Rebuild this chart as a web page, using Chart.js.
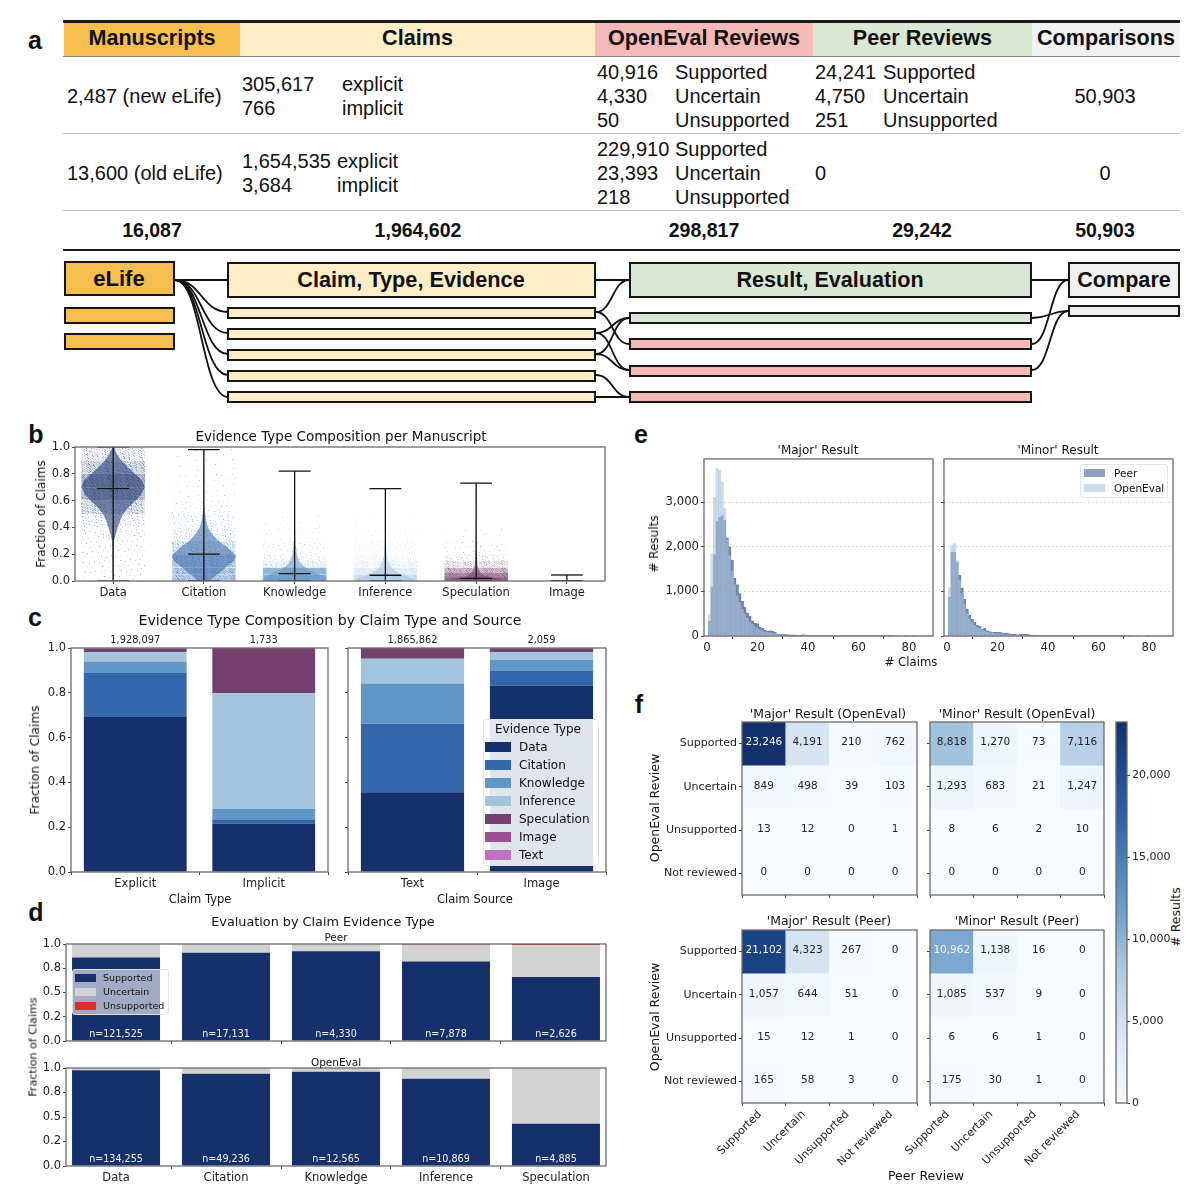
<!DOCTYPE html>
<html>
<head>
<meta charset="utf-8">
<title>Evaluation figure</title>
<script src="https://cdn.jsdelivr.net/npm/chart.js@4/dist/chart.umd.min.js"></script>
<style>
  html, body { margin: 0; background: #fff; }
  #root { position: relative; width: 1200px; height: 1197px; overflow: hidden; background: #fff; }
  #root canvas { position: absolute; }
  .t { position: absolute; white-space: nowrap; color: #111; font-family: "DejaVu Sans", sans-serif; line-height: 1; }
  .top { font-family: "Liberation Sans", Arial, sans-serif; }
  .box { position: absolute; box-sizing: border-box; border: 2px solid #151515; }
  .rule { position: absolute; }
  .leg { position: absolute; box-sizing: border-box; border: 1px solid #e3e3e3; border-radius: 3px; }
  .sw { position: absolute; }
</style>
</head>
<body>
<div id="root"></div>
<script>
// ----- table text -----
const headers = ["Manuscripts", "Claims", "OpenEval Reviews", "Peer Reviews", "Comparisons"];
const manuscripts = ["2,487 (new eLife)", "13,600 (old eLife)"];
const claimKinds = ["explicit", "implicit"];
const claimsNew = ["305,617", "766"];
const claimsOld = ["1,654,535", "3,684"];
const verdicts = ["Supported", "Uncertain", "Unsupported"];
const openEvalNew = ["40,916", "4,330", "50"];
const openEvalOld = ["229,910", "23,393", "218"];
const peerNew = ["24,241", "4,750", "251"];
const comparisons = ["50,903", "0"];
const totals = ["16,087", "1,964,602", "298,817", "29,242", "50,903"];

// ----- panel b -----
const evidenceTypes = ["Data", "Citation", "Knowledge", "Inference", "Speculation", "Image"];
const violinY = [
  [0, .1, .2, .3, .35, .4, .45, .5, .55, .6, .65, .7, .75, .8, .85, .9, .95, 1],
  [0, .03, .06, .1, .15, .18, .2, .25, .3, .35, .4, .45, .5, .55, .6, .7, .8, .98],
  [0, .02, .04, .06, .08, .1, .12, .15, .2, .3, .5, .82],
  [0, .02, .04, .06, .08, .1, .15, .2, .3, .69],
  [0, .01, .02, .03, .04, .06, .08, .12, .3, .73],
];
const violinWidth = [
  [.004, .004, .005, .01, .03, .05, .075, .11, .17, .25, .31, .35, .32, .24, .16, .09, .04, .006],
  [.06, .11, .17, .24, .33, .35, .34, .26, .16, .09, .045, .025, .015, .008, .005, .003, .002, .002],
  [.35, .34, .3, .24, .17, .12, .08, .05, .025, .008, .003, .001],
  [.35, .3, .22, .15, .1, .07, .03, .015, .005, .001],
  [.35, .3, .22, .15, .09, .05, .03, .015, .004, .001],
];
const cloudEdges = [
  [0, .1, .2, .3, .4, .5, .6, .7, .8, .9, 1],
  [0, .05, .1, .2, .3, .4, .5, .6, .8, 1],
  [0, .05, .1, .15, .2, .3, .4, .5],
  [0, .05, .1, .15, .2, .3, .4, .5],
  [0, .03, .06, .1, .15, .2, .3, .4],
];
const cloudDensity = [
  [.03, .03, .04, .05, .1, .3, .5, .55, .35, .2],
  [.55, .55, .5, .3, .14, .08, .04, .02, .012],
  [1, .9, .22, .1, .05, .03, .015],
  [.7, .45, .25, .15, .08, .04, .015],
  [1, .85, .6, .25, .08, .03, .012],
];
const whiskerMin = [0, 0, 0, 0, 0, 0];
const whiskerMax = [1, .98, .82, .69, .73, .045];
const whiskerMean = [.69, .2, .055, .043, .02, .002];
const tickLabels02 = ["0.0", "0.2", "0.4", "0.6", "0.8", "1.0"];
const tickValues02 = [0, .2, .4, .6, .8, 1];

// ----- panel c -----
const stackTypes = ["Data", "Citation", "Knowledge", "Inference", "Speculation", "Image", "Text"];
const claimTypes = ["Explicit", "Implicit"];
const claimSources = ["Text", "Image"];
const typeCounts = ["1,928,097", "1,733"];
const sourceCounts = ["1,865,862", "2,059"];
const explicitShares = [.692, .196, .052, .041, .017, .001, .001];
const implicitShares = [.216, .016, .049, .517, .202, 0, 0];
const textShares = [.356, .306, .18, .11, .048, 0, 0];
const imageShares = [.833, .067, .048, .033, .018, .001, 0];

// ----- panel d -----
const evalCategories = ["Data", "Citation", "Knowledge", "Inference", "Speculation"];
const evalTicks = [0, .25, .5, .75, 1];
const evalTickLabels = ["0.0", "0.2", "0.5", "0.8", "1.0"];
const peerSupported = [.86, .91, .925, .82, .66];
const peerUncertain = [.139, .089, .074, .172, .328];
const peerUnsupported = [.001, .001, .001, .008, .012];
const openSupported = [.976, .942, .962, .89, .43];
const openUncertain = [.024, .058, .038, .11, .57];
const openUnsupported = [0, 0, 0, 0, 0];
const peerCounts = ["n=121,525", "n=17,131", "n=4,330", "n=7,878", "n=2,626"];
const openCounts = ["n=134,255", "n=49,236", "n=12,565", "n=10,869", "n=4,885"];

// ----- panel e, counts for 1, 2, 3 ... claims -----
const majorPeer = [340, 1100, 1820, 2570, 2660, 2700, 2600, 2200, 2000, 1700,
  1300, 1150, 950, 780, 640, 520, 440, 340, 290, 280,
  200, 170, 140, 110, 120, 110, 80, 50, 45, 40,
  35, 30, 25, 25, 20, 20, 20, 30, 25, 20,
  15, 15, 20, 15, 10, 10, 8, 8, 6, 6,
  5, 5, 5, 4, 4, 4, 6, 8, 4, 3,
  3, 2, 2, 2, 2, 1, 1, 1, 1, 1,
  1, 1, 1, 1, 0, 1, 0, 0, 1, 0, 0, 1];
const majorOpen = [480, 1850, 3100, 3760, 3720, 3450, 2860, 2150, 1800, 1450,
  1150, 900, 750, 600, 500, 400, 320, 260, 210, 170,
  140, 110, 90, 80, 70, 55, 45, 40, 30, 25,
  22, 20, 18, 15, 14, 12, 10, 18, 12, 9,
  8, 8, 10, 7, 6, 5, 4, 4, 3, 3,
  3, 2, 2, 2, 2, 2, 3, 4, 2, 2,
  1, 1, 1, 1, 1, 1, 1, 1, 0, 1, 0, 0, 1];
const minorPeer = [880, 1880, 1880, 1650, 1360, 1080, 830, 610, 470, 380,
  310, 240, 220, 150, 180, 120, 100, 80, 90, 80,
  80, 70, 60, 60, 50, 45, 40, 25, 35, 40,
  40, 35, 25, 20, 18, 15, 14, 12, 15, 12,
  12, 10, 14, 12, 8, 8, 7, 12, 10, 8,
  6, 6, 4, 4, 3, 3, 3, 3, 3, 4,
  3, 3, 2, 4, 2, 1, 1, 1, 2, 1,
  1, 1, 1, 0, 1, 0, 0, 0, 1, 2];
const minorOpen = [1080, 2040, 2070, 1700, 1250, 950, 700, 500, 380, 300,
  240, 190, 160, 130, 110, 90, 75, 65, 55, 50,
  45, 40, 35, 30, 25, 22, 20, 18, 16, 15,
  14, 12, 10, 9, 8, 7, 6, 6, 5, 5,
  4, 4, 4, 3, 3, 3, 3, 2, 2, 2,
  2, 2, 1, 1, 1, 1, 1, 1, 1, 1];
const histYTicks = [0, 1000, 2000, 3000];
const histYLabels = ["0", "1,000", "2,000", "3,000"];
const histXTicks = [0, 20, 40, 60, 80];

// ----- panel f -----
const reviewLabels = ["Supported", "Uncertain", "Unsupported", "Not reviewed"];
const majorOpenEval = [[23246, 4191, 210, 762], [849, 498, 39, 103], [13, 12, 0, 1], [0, 0, 0, 0]];
const minorOpenEval = [[8818, 1270, 73, 7116], [1293, 683, 21, 1247], [8, 6, 2, 10], [0, 0, 0, 0]];
const majorPeerReview = [[21102, 4323, 267, 0], [1057, 644, 51, 0], [15, 12, 1, 0], [165, 58, 3, 0]];
const minorPeerReview = [[10962, 1138, 16, 0], [1085, 537, 9, 0], [6, 6, 1, 0], [175, 30, 1, 0]];
const colorbarTicks = [0, 5000, 10000, 15000, 20000];
const colorbarMax = 23246;

// ----- colours -----
const typeColors = ["#15306b", "#3366aa", "#6097c7", "#a4c4de", "#74406f", "#9a4f92", "#c270c0"];
const evalColors = ["#15306b", "#d2d2d2", "#d9302c"];
const blues = [[247, 251, 255], [227, 237, 247], [201, 219, 237], [164, 196, 222], [111, 159, 204],
  [74, 132, 187], [46, 99, 168], [28, 74, 140], [21, 49, 107]];

const root = document.getElementById("root");
Chart.defaults.font.family = '"DejaVu Sans", sans-serif';
Chart.defaults.font.size = 11;
Chart.defaults.color = "#222";

function text(str, x, y, size, o = {}) {
  const d = document.createElement("div");
  d.className = "t" + (o.top ? " top" : "");
  d.textContent = str;
  d.style.left = x + "px";
  d.style.top = y + "px";
  d.style.fontSize = size + "px";
  if (o.bold) d.style.fontWeight = "bold";
  const tx = o.left ? "0" : "-50%";
  d.style.transform = "translate(" + tx + ",-50%)" + (o.rot ? " rotate(" + o.rot + "deg)" : "");
  root.appendChild(d);
}
function rect(cls, x, y, w, h, color) {
  const d = document.createElement("div");
  d.className = cls;
  d.style.cssText = "left:" + x + "px;top:" + y + "px;width:" + w + "px;height:" + h + "px;background:" + color;
  root.appendChild(d);
  return d;
}

// ----- panel a: table -----
[[64, 176, "#f6bd4f"], [240, 355, "#fdeec8"], [595, 218, "#f5b9b8"], [813, 219, "#d9e8d5"], [1032, 148, "#f1f1f1"]]
  .forEach((b, i) => {
    rect("rule", b[0], 22, b[1], 34, b[2]);
    text(headers[i], b[0] + b[1] / 2, 38, 21.6, { top: 1, bold: 1 });
  });
rect("rule", 63, 20, 1117, 2.5, "#1a1a1a");
rect("rule", 63, 56, 1117, 1, "#888");
rect("rule", 63, 133, 1117, 1, "#c4c4c4");
rect("rule", 63, 210, 1117, 1, "#c4c4c4");
rect("rule", 63, 249, 1117, 2, "#1a1a1a");

const L = { top: 1, left: 1 };
text(manuscripts[0], 67, 96, 20, L);
text(manuscripts[1], 67, 173, 20, L);
claimsNew.forEach((v, i) => { text(v, 242, 84 + i * 24, 20, L); text(claimKinds[i], 342, 84 + i * 24, 20, L); });
claimsOld.forEach((v, i) => { text(v, 242, 161 + i * 24, 20, L); text(claimKinds[i], 337, 161 + i * 24, 20, L); });
verdicts.forEach((v, i) => {
  text(openEvalNew[i], 597, 72 + i * 24, 20, L); text(v, 675, 72 + i * 24, 20, L);
  text(openEvalOld[i], 597, 148.5 + i * 24, 20, L); text(v, 675, 148.5 + i * 24, 20, L);
  text(peerNew[i], 815, 72 + i * 24, 20, L); text(v, 883, 72 + i * 24, 20, L);
});
text("0", 815, 173, 20, L);
text(comparisons[0], 1105, 96, 20, { top: 1 });
text(comparisons[1], 1105, 173, 20, { top: 1 });
[152, 418, 704, 922, 1105].forEach((x, i) => text(totals[i], x, 231, 19.5, { top: 1, bold: 1 }));

// ----- panel a: workflow boxes and connectors -----
const svgNS = "http://www.w3.org/2000/svg";
const svg = document.createElementNS(svgNS, "svg");
svg.setAttribute("width", 1200);
svg.setAttribute("height", 420);
svg.style.cssText = "position:absolute;left:0;top:0";
root.appendChild(svg);
const links = [
  [175, 280, 228, 280], [175, 280, 228, 312], [175, 280, 228, 333], [175, 280, 228, 354], [175, 280, 228, 375], [175, 280, 228, 397],
  [596, 280, 629, 280], [596, 312, 629, 280], [596, 312, 629, 344], [596, 333, 629, 318], [596, 333, 629, 370],
  [596, 354, 629, 318], [596, 354, 629, 370], [596, 375, 629, 397], [596, 397, 629, 397],
  [1032, 280, 1068, 280], [1032, 344, 1068, 280], [1032, 318, 1068, 311], [1032, 370, 1068, 311],
];
links.forEach(([x1, y1, x2, y2]) => {
  const p = document.createElementNS(svgNS, "path");
  const m = (x1 + x2) / 2;
  p.setAttribute("d", "M" + x1 + " " + y1 + " C" + m + " " + y1 + " " + m + " " + y2 + " " + x2 + " " + y2);
  p.setAttribute("fill", "none");
  p.setAttribute("stroke", "#111");
  p.setAttribute("stroke-width", "1.8");
  svg.appendChild(p);
});
const orange = "#f6bd4f", cream = "#fdeec8", green = "#d9e8d5", pink = "#f5b9b8", grey = "#f1f1f1";
[[64, 261, 111, 35, orange], [64, 307, 111, 17, orange], [64, 333, 111, 17, orange],
 [227, 262, 369, 36, cream], [227, 307, 369, 12, cream], [227, 328, 369, 12, cream], [227, 349, 369, 12, cream], [227, 370, 369, 12, cream], [227, 391, 369, 12, cream],
 [629, 262, 403, 36, green], [629, 312, 403, 12, green], [629, 338, 403, 12, pink], [629, 365, 403, 12, pink], [629, 391, 403, 12, pink],
 [1068, 262, 112, 36, grey], [1068, 305, 112, 12, grey]]
  .forEach(b => rect("box", b[0], b[1], b[2], b[3], b[4]));
text("eLife", 119, 279, 22, { top: 1, bold: 1 });
text("Claim, Type, Evidence", 411, 280, 21.7, { top: 1, bold: 1 });
text("Result, Evaluation", 830, 280, 21.6, { top: 1, bold: 1 });
text("Compare", 1124, 280, 21.6, { top: 1, bold: 1 });

[["a", 35, 40], ["b", 36, 434], ["c", 35, 617], ["d", 36, 912], ["e", 641, 434], ["f", 639, 704]]
  .forEach(l => text(l[0], l[1], l[2], 25, { top: 1, bold: 1 }));

// ----- chart helpers -----
const MARGIN = { l: 70, r: 30, t: 20, b: 80 };
const WIDE_LEFT = { l: 90, r: 30, t: 20, b: 80 };

Chart.register({
  id: "frame",
  afterDatasetsDraw(chart) {
    const a = chart.chartArea, c = chart.ctx;
    c.save();
    c.strokeStyle = "#6a6a6a";
    c.lineWidth = 1.3;
    c.strokeRect(a.left, a.top, a.width, a.height);
    c.restore();
  },
});

function axis(min, max, values, labels, size = 11, extra = {}) {
  return Object.assign({
    type: "linear", min, max, offset: false,
    border: { display: false },
    grid: { drawOnChartArea: false, tickLength: 3, color: "#444" },
    ticks: {
      autoSkip: false, maxRotation: 0, minRotation: 0, padding: 2, color: "#222", font: { size },
      callback: (v, i) => (labels ? labels[i] : ""),
    },
    afterBuildTicks: s => { s.ticks = values.map(value => ({ value })); },
  }, extra);
}

function plot(box, cfg, m = MARGIN) {
  const w = box[2] - box[0], h = box[3] - box[1];
  const c = document.createElement("canvas");
  c.width = w + m.l + m.r;
  c.height = h + m.t + m.b;
  c.style.left = box[0] - m.l + "px";
  c.style.top = box[1] - m.t + "px";
  root.appendChild(c);
  const o = cfg.options;
  const atRight = o.scales.y.position === "right";
  o.responsive = false;
  o.animation = false;
  o.layout = { padding: { top: m.t, left: atRight ? m.l : 0, right: atRight ? 0 : m.r } };
  o.scales.x.afterFit = s => { s.height = m.b; };
  o.scales.y.afterFit = s => { s.width = atRight ? m.r : m.l; };
  o.plugins = Object.assign({ legend: { display: false }, tooltip: { enabled: false } }, o.plugins);
  return new Chart(c, cfg);
}

function labelsPlugin(strings, font, color, yOf) {
  return {
    id: "barLabels",
    afterDatasetsDraw(chart) {
      const c = chart.ctx;
      c.save();
      c.font = font + 'px "DejaVu Sans", sans-serif';
      c.fillStyle = color;
      c.textAlign = "center";
      c.textBaseline = "middle";
      chart.getDatasetMeta(0).data.forEach((bar, i) => c.fillText(strings[i], bar.x, yOf(chart.chartArea)));
      c.restore();
    },
  };
}

// ----- panel b -----
// soft dot texture for the jitter clouds, a fixed low discrepancy sequence
function stipple(color, density) {
  const size = 127, p = document.createElement("canvas");
  p.width = p.height = size;
  const g = p.getContext("2d");
  g.fillStyle = color;
  g.globalAlpha = Math.pow(density, 1.5) * 0.7;
  g.fillRect(0, 0, size, size);
  const dots = Math.round(size * size * density * 1.1);
  for (let i = 0; i < dots; i++) {
    g.globalAlpha = 0.1 + (i % 7) * 0.05;
    g.fillRect(Math.floor((i * 0.7548776662 % 1) * size), Math.floor((i * 0.569840291 % 1) * size), 1, 1);
  }
  return p;
}
const HALF_CLOUD = 0.35, CAP = 0.175;
const bData = [];
const lineDs = (pts, color) => ({ data: pts, borderColor: color, borderWidth: 1.3, pointRadius: 0, fill: false });
const fillPair = (left, right, color) => [
  { data: left, borderWidth: 0, pointRadius: 0, fill: false },
  { data: right, borderWidth: 0, pointRadius: 0, fill: "-1", backgroundColor: color },
];
evidenceTypes.forEach((_, i) => {
  bData.push(lineDs([{ x: i, y: whiskerMin[i] }, { x: i, y: whiskerMax[i] }], "#111"));
  [whiskerMin[i], whiskerMean[i], whiskerMax[i]].forEach(v =>
    bData.push(lineDs([{ x: i - CAP, y: v }, { x: i + CAP, y: v }], "#111")));
});
const rgba = (hex, a) => {
  const n = parseInt(hex.slice(1), 16);
  return "rgba(" + (n >> 16) + "," + ((n >> 8) & 255) + "," + (n & 255) + "," + a + ")";
};
violinY.forEach((ys, i) => {
  bData.push(...fillPair(ys.map((y, k) => ({ x: i - violinWidth[i][k], y })),
    ys.map((y, k) => ({ x: i + violinWidth[i][k], y })), rgba(typeColors[i], 0.55)));
});
const pctx = document.createElement("canvas").getContext("2d");
cloudEdges.forEach((edges, i) => {
  cloudDensity[i].forEach((dens, k) => {
    const ends = [edges[k], edges[k + 1]];
    bData.push(...fillPair(ends.map(y => ({ x: i - HALF_CLOUD, y })), ends.map(y => ({ x: i + HALF_CLOUD, y })),
      pctx.createPattern(stipple(typeColors[i], dens), "repeat")));
  });
});
plot([75, 447, 605, 581], {
  type: "line",
  data: { datasets: bData },
  options: {
    indexAxis: "y",
    scales: {
      x: axis(-0.42, 5.42, [0, 1, 2, 3, 4, 5], evidenceTypes, 11.5),
      y: axis(0, 1, tickValues02, tickLabels02, 11.5),
    },
  },
});
text("Evidence Type Composition per Manuscript", 341, 437, 13.5);
text("Fraction of Claims", 41, 514, 12, { rot: -90 });

// ----- panel c and d: stacked bars on a numeric x axis -----
function stacked(box, shares, names, colors, xMin, xMax, yTicks, yLabels, showY, plugins, xLabels = names) {
  return plot(box, {
    type: "bar",
    data: {
      datasets: shares.map((vals, s) => ({
        data: vals.map((y, x) => ({ x, y })), backgroundColor: colors[s],
        barPercentage: 0.8, categoryPercentage: 1, borderWidth: 0,
      })),
    },
    plugins,
    options: {
      scales: {
        x: axis(xMin, xMax, names.map((_, i) => i), xLabels, 11.5, { stacked: true }),
        y: axis(0, 1, yTicks, showY ? yLabels : null, 11.5, { stacked: true }),
      },
    },
  });
}
const typeSeries = stackTypes.map((_, s) => [explicitShares[s], implicitShares[s]]);
const sourceSeries = stackTypes.map((_, s) => [textShares[s], imageShares[s]]);
const countY = a => a.top - 8;
stacked([71, 648, 328, 872], typeSeries, claimTypes, typeColors, -0.5, 1.5, tickValues02, tickLabels02, true,
  [labelsPlugin(typeCounts, 9.8, "#222", countY)]);
stacked([348, 648, 606, 872], sourceSeries, claimSources, typeColors, -0.5, 1.5, tickValues02, tickLabels02, false,
  [labelsPlugin(sourceCounts, 9.8, "#222", countY)]);
text("Evidence Type Composition by Claim Type and Source", 330, 620, 14.2);
text("Fraction of Claims", 35, 760, 12.2, { rot: -90 });
text("Claim Type", 200, 900, 11.5);
text("Claim Source", 475, 900, 11.5);

rect("leg", 483, 719, 116, 147, "rgba(255,255,255,.87)");
text("Evidence Type", 538, 729, 12);
stackTypes.forEach((name, i) => {
  rect("sw", 485, 742 + i * 18, 26, 10, typeColors[i]);
  text(name, 519, 747 + i * 18, 12, { left: 1 });
});

const nY = a => a.bottom - 7;
stacked([66, 944, 606, 1041], [peerSupported, peerUncertain, peerUnsupported], evalCategories, evalColors,
  -0.455, 4.455, evalTicks, evalTickLabels, true, [labelsPlugin(peerCounts, 9.6, "#f2f4f8", nY)], null);
stacked([66, 1068, 606, 1166], [openSupported, openUncertain, openUnsupported], evalCategories, evalColors,
  -0.455, 4.455, evalTicks, evalTickLabels, true, [labelsPlugin(openCounts, 9.6, "#f2f4f8", nY)]);
text("Evaluation by Claim Evidence Type", 323, 922, 12.8);
text("Peer", 336, 937, 10.5);
text("OpenEval", 336, 1062, 10.5);
text("Fraction of Claims", 33, 1047, 11.1, { rot: -90 });
rect("leg", 72, 969, 97, 46, "rgba(255,255,255,.6)");
["Supported", "Uncertain", "Unsupported"].forEach((name, i) => {
  rect("sw", 75, 974 + i * 14.2, 21, 8, evalColors[i]);
  text(name, 103, 978 + i * 14.2, 9.5, { left: 1 });
});

// ----- panel e -----
const peerFill = "rgba(40,75,130,.52)", peerEdge = "rgba(21,48,107,.5)", openFill = "rgba(170,195,220,.6)";
function histogram(box, peer, open, showY) {
  const pts = arr => arr.map((y, i) => ({ x: i + 1, y }));
  const yAxis = axis(0, 3968, histYTicks, showY ? histYLabels : null, 11.7);
  yAxis.grid = { drawOnChartArea: true, tickLength: 3, color: "#ddd", tickColor: "#444" };
  yAxis.border = { display: false, dash: [2, 2] };
  plot(box, {
    type: "bar",
    data: {
      datasets: [
        { label: "OpenEval", data: pts(open), backgroundColor: openFill, borderWidth: 0, grouped: false, barPercentage: 1, categoryPercentage: 1 },
        { label: "Peer", data: pts(peer), backgroundColor: peerFill, borderColor: peerEdge, borderWidth: 0.6, grouped: false, barPercentage: 1, categoryPercentage: 1 },
      ],
    },
    options: { scales: { x: axis(-1.2, 89.5, histXTicks, histXTicks.map(String), 11.7), y: yAxis } },
  });
}
histogram([704, 459, 933, 636], majorPeer, majorOpen, true);
histogram([944, 459, 1173, 636], minorPeer, minorOpen, false);
text("'Major' Result", 818, 450, 12);
text("'Minor' Result", 1058, 450, 12);
text("# Results", 654, 544, 12, { rot: -90 });
text("# Claims", 911, 663, 11.7);
rect("leg", 1080, 464, 88, 34, "rgba(255,255,255,.8)");
rect("sw", 1084, 469, 21, 8, peerFill);
rect("sw", 1084, 484, 21, 8, openFill);
text("Peer", 1114, 473, 10.5, { left: 1 });
text("OpenEval", 1114, 488, 10.5, { left: 1 });

// ----- panel f -----
function blue(v) {
  const t = Math.min(v / colorbarMax, 1) * (blues.length - 1);
  const k = Math.min(Math.floor(t), blues.length - 2), f = t - k;
  const c = blues[k].map((a, j) => Math.round(a + (blues[k + 1][j] - a) * f));
  return "rgb(" + c.join(",") + ")";
}
function heatmap(box, values, showY, showX) {
  const cellText = {
    id: "cellText",
    afterDatasetsDraw(chart) {
      const c = chart.ctx;
      c.save();
      c.font = '10.5px "DejaVu Sans", sans-serif';
      c.textAlign = "center";
      c.textBaseline = "middle";
      values.forEach((row, r) => chart.getDatasetMeta(r).data.forEach((bar, i) => {
        c.fillStyle = row[i] > 10000 ? "#f4f8fc" : "#222";
        c.fillText(row[i].toLocaleString("en-US"), bar.x, (bar.y + bar.base) / 2 - 1);
      }));
      c.restore();
    },
  };
  const x = axis(-0.5, 3.5, [0, 1, 2, 3], showX ? reviewLabels : null, 11, { stacked: true });
  if (showX) { x.ticks.maxRotation = 45; x.ticks.minRotation = 45; x.ticks.labelOffset = -4; }
  plot(box, {
    type: "bar",
    data: {
      datasets: values.map(row => ({
        data: row.map((v, i) => ({ x: i, y: 1 })), backgroundColor: row.map(blue), borderWidth: 0,
        barPercentage: 1, categoryPercentage: 1, borderSkipped: false,
      })),
    },
    plugins: [cellText],
    options: {
      scales: {
        x,
        y: axis(0, 4, [.5, 1.5, 2.5, 3.5], showY ? reviewLabels : null, 11, { stacked: true, reverse: true }),
      },
    },
  }, WIDE_LEFT);
}
heatmap([742, 722, 917, 895], majorOpenEval, true, false);
heatmap([930, 722, 1104, 895], minorOpenEval, false, false);
heatmap([742, 930, 917, 1103], majorPeerReview, true, true);
heatmap([930, 930, 1104, 1103], minorPeerReview, false, true);
text("'Major' Result (OpenEval)", 828, 714, 12.4);
text("'Minor' Result (OpenEval)", 1017, 714, 12.4);
text("'Major' Result (Peer)", 829, 921, 12.4);
text("'Minor' Result (Peer)", 1017, 921, 12.4);
text("OpenEval Review", 655, 808, 12.5, { rot: -90 });
text("OpenEval Review", 655, 1017, 12.5, { rot: -90 });
text("Peer Review", 926, 1176, 12.5);
text("# Results", 1176, 917, 12.5, { rot: -90 });

const cb = axis(0, colorbarMax, colorbarTicks, colorbarTicks.map(v => v.toLocaleString("en-US")), 11, { position: "right" });
plot([1116, 722, 1127, 1103], {
  type: "bar",
  data: {
    datasets: [{
      data: [{ x: 0, y: colorbarMax }], barPercentage: 1, categoryPercentage: 1, borderWidth: 0,
      backgroundColor: ctx => {
        const a = ctx.chart.chartArea;
        if (!a) return blue(0);
        const g = ctx.chart.ctx.createLinearGradient(0, a.bottom, 0, a.top);
        blues.forEach((c, i) => g.addColorStop(i / (blues.length - 1), "rgb(" + c.join(",") + ")"));
        return g;
      },
    }],
  },
  options: { scales: { x: axis(-0.5, 0.5, [], null), y: cb } },
}, { l: 5, r: 60, t: 15, b: 15 });
</script>
</body>
</html>
